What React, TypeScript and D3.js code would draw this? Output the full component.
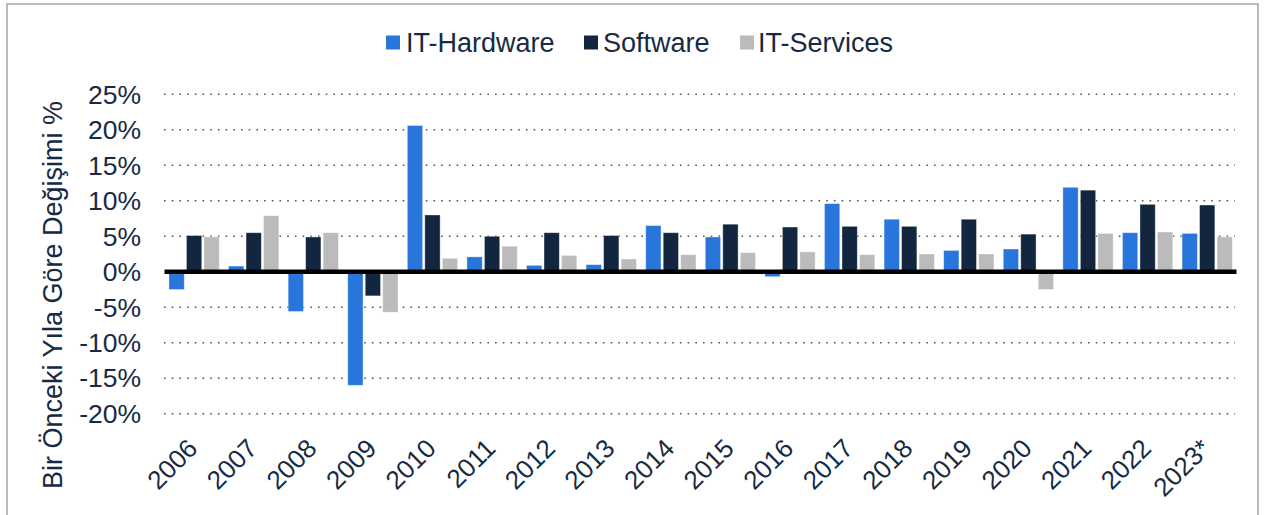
import React from "react";
import * as d3 from "d3";

const years = ["2006","2007","2008","2009","2010","2011","2012","2013","2014","2015","2016","2017","2018","2019","2020","2021","2022","2023*"];
const seriesNames = ["IT-Hardware", "Software", "IT-Services"];
const hardware = [-2.5, 0.8, -5.6, -16.0, 20.6, 2.1, 0.9, 1.0, 6.5, 4.9, -0.7, 9.6, 7.4, 3.0, 3.2, 11.9, 5.5, 5.4];
const software = [5.1, 5.5, 4.9, -3.4, 8.0, 5.0, 5.5, 5.1, 5.5, 6.7, 6.3, 6.4, 6.4, 7.4, 5.3, 11.5, 9.5, 9.4];
const services = [4.9, 7.9, 5.5, -5.7, 1.9, 3.6, 2.3, 1.8, 2.4, 2.7, 2.8, 2.4, 2.5, 2.5, -2.5, 5.4, 5.6, 4.9];
const yTicks = [25, 20, 15, 10, 5, 0, -5, -10, -15, -20];
const yTitle = "Bir Önceki Yıla Göre Değişimi %";

const colors = ["#2876DC", "#12263F", "#BBBBBB"];
const textColor = "#172A43";
const FONT = "'Liberation Sans', Arial, Helvetica, sans-serif";

export default function App() {
  const W = 1264, H = 515;
  const x0 = d3.scaleBand<string>().domain(years).range([164.3, 1237]).paddingInner(0).paddingOuter(0);
  const x1 = d3.scaleBand<string>().domain(seriesNames).range([0, x0.bandwidth()]).paddingInner(0.126).paddingOuter(0.266);
  const y = d3.scaleLinear().domain([-20, 25]).range([413.7, 94.3]);
  const data = [hardware, software, services];

  const legendItems = [
    { name: seriesNames[0], sq: 386, tx: 406 },
    { name: seriesNames[1], sq: 584, tx: 603 },
    { name: seriesNames[2], sq: 740, tx: 758 },
  ];

  return (
    <svg width={W} height={H} style={{ position: "absolute", left: 0, top: 0, background: "#fff" }} fontFamily={FONT}>
      <rect x={7} y={4} width={1251} height={530} fill="#fff" stroke="#A6A6A6" strokeWidth={1.5} />
      {/* legend */}
      {legendItems.map((it, i) => (
        <g key={it.name}>
          <rect x={it.sq} y={35.5} width={14} height={14} fill={colors[i]} />
          <text x={it.tx} y={42.5} dy="0.35em" fontSize={27} fill={textColor}>{it.name}</text>
        </g>
      ))}
      {/* gridlines */}
      {yTicks.filter(t => t !== 0).map(t => (
        <line key={t} x1={164} x2={1235} y1={y(t)} y2={y(t)} stroke="#555" strokeWidth={1.6} strokeDasharray="1.6 6.1" />
      ))}
      {/* y tick labels */}
      {yTicks.map(t => (
        <text key={t} x={141} y={y(t)} dy="0.35em" textAnchor="end" fontSize={26.5} fill={textColor}>{`${t}%`}</text>
      ))}
      {/* bars */}
      {years.map((yr, j) => (
        <g key={yr} transform={`translate(${x0(yr)},0)`}>
          {data.map((arr, i) => {
            const v = arr[j];
            const yy = Math.min(y(v), y(0));
            const hh = Math.abs(y(v) - y(0));
            return (
              <rect key={i} x={x1(seriesNames[i])} y={yy} width={x1.bandwidth()} height={hh}
                fill={colors[i]} stroke="#ffffff" strokeOpacity={0.45} strokeWidth={0.8} />
            );
          })}
        </g>
      ))}
      {/* zero line */}
      <line x1={164.5} x2={1236.5} y1={y(0)} y2={y(0)} stroke="#000" strokeWidth={4.5} />
      {/* x labels */}
      {years.map(yr => {
        const cx = (x0(yr) as number) + x0.bandwidth() / 2 + 5;
        return (
          <text key={yr} transform={`translate(${cx},450) rotate(-45)`} textAnchor="end" fontSize={26} fill={textColor}>{yr}</text>
        );
      })}
      {/* y title */}
      <text transform={`translate(62,295) rotate(-90)`} textAnchor="middle" fontSize={27} fill={textColor}>{yTitle}</text>
    </svg>
  );
}
